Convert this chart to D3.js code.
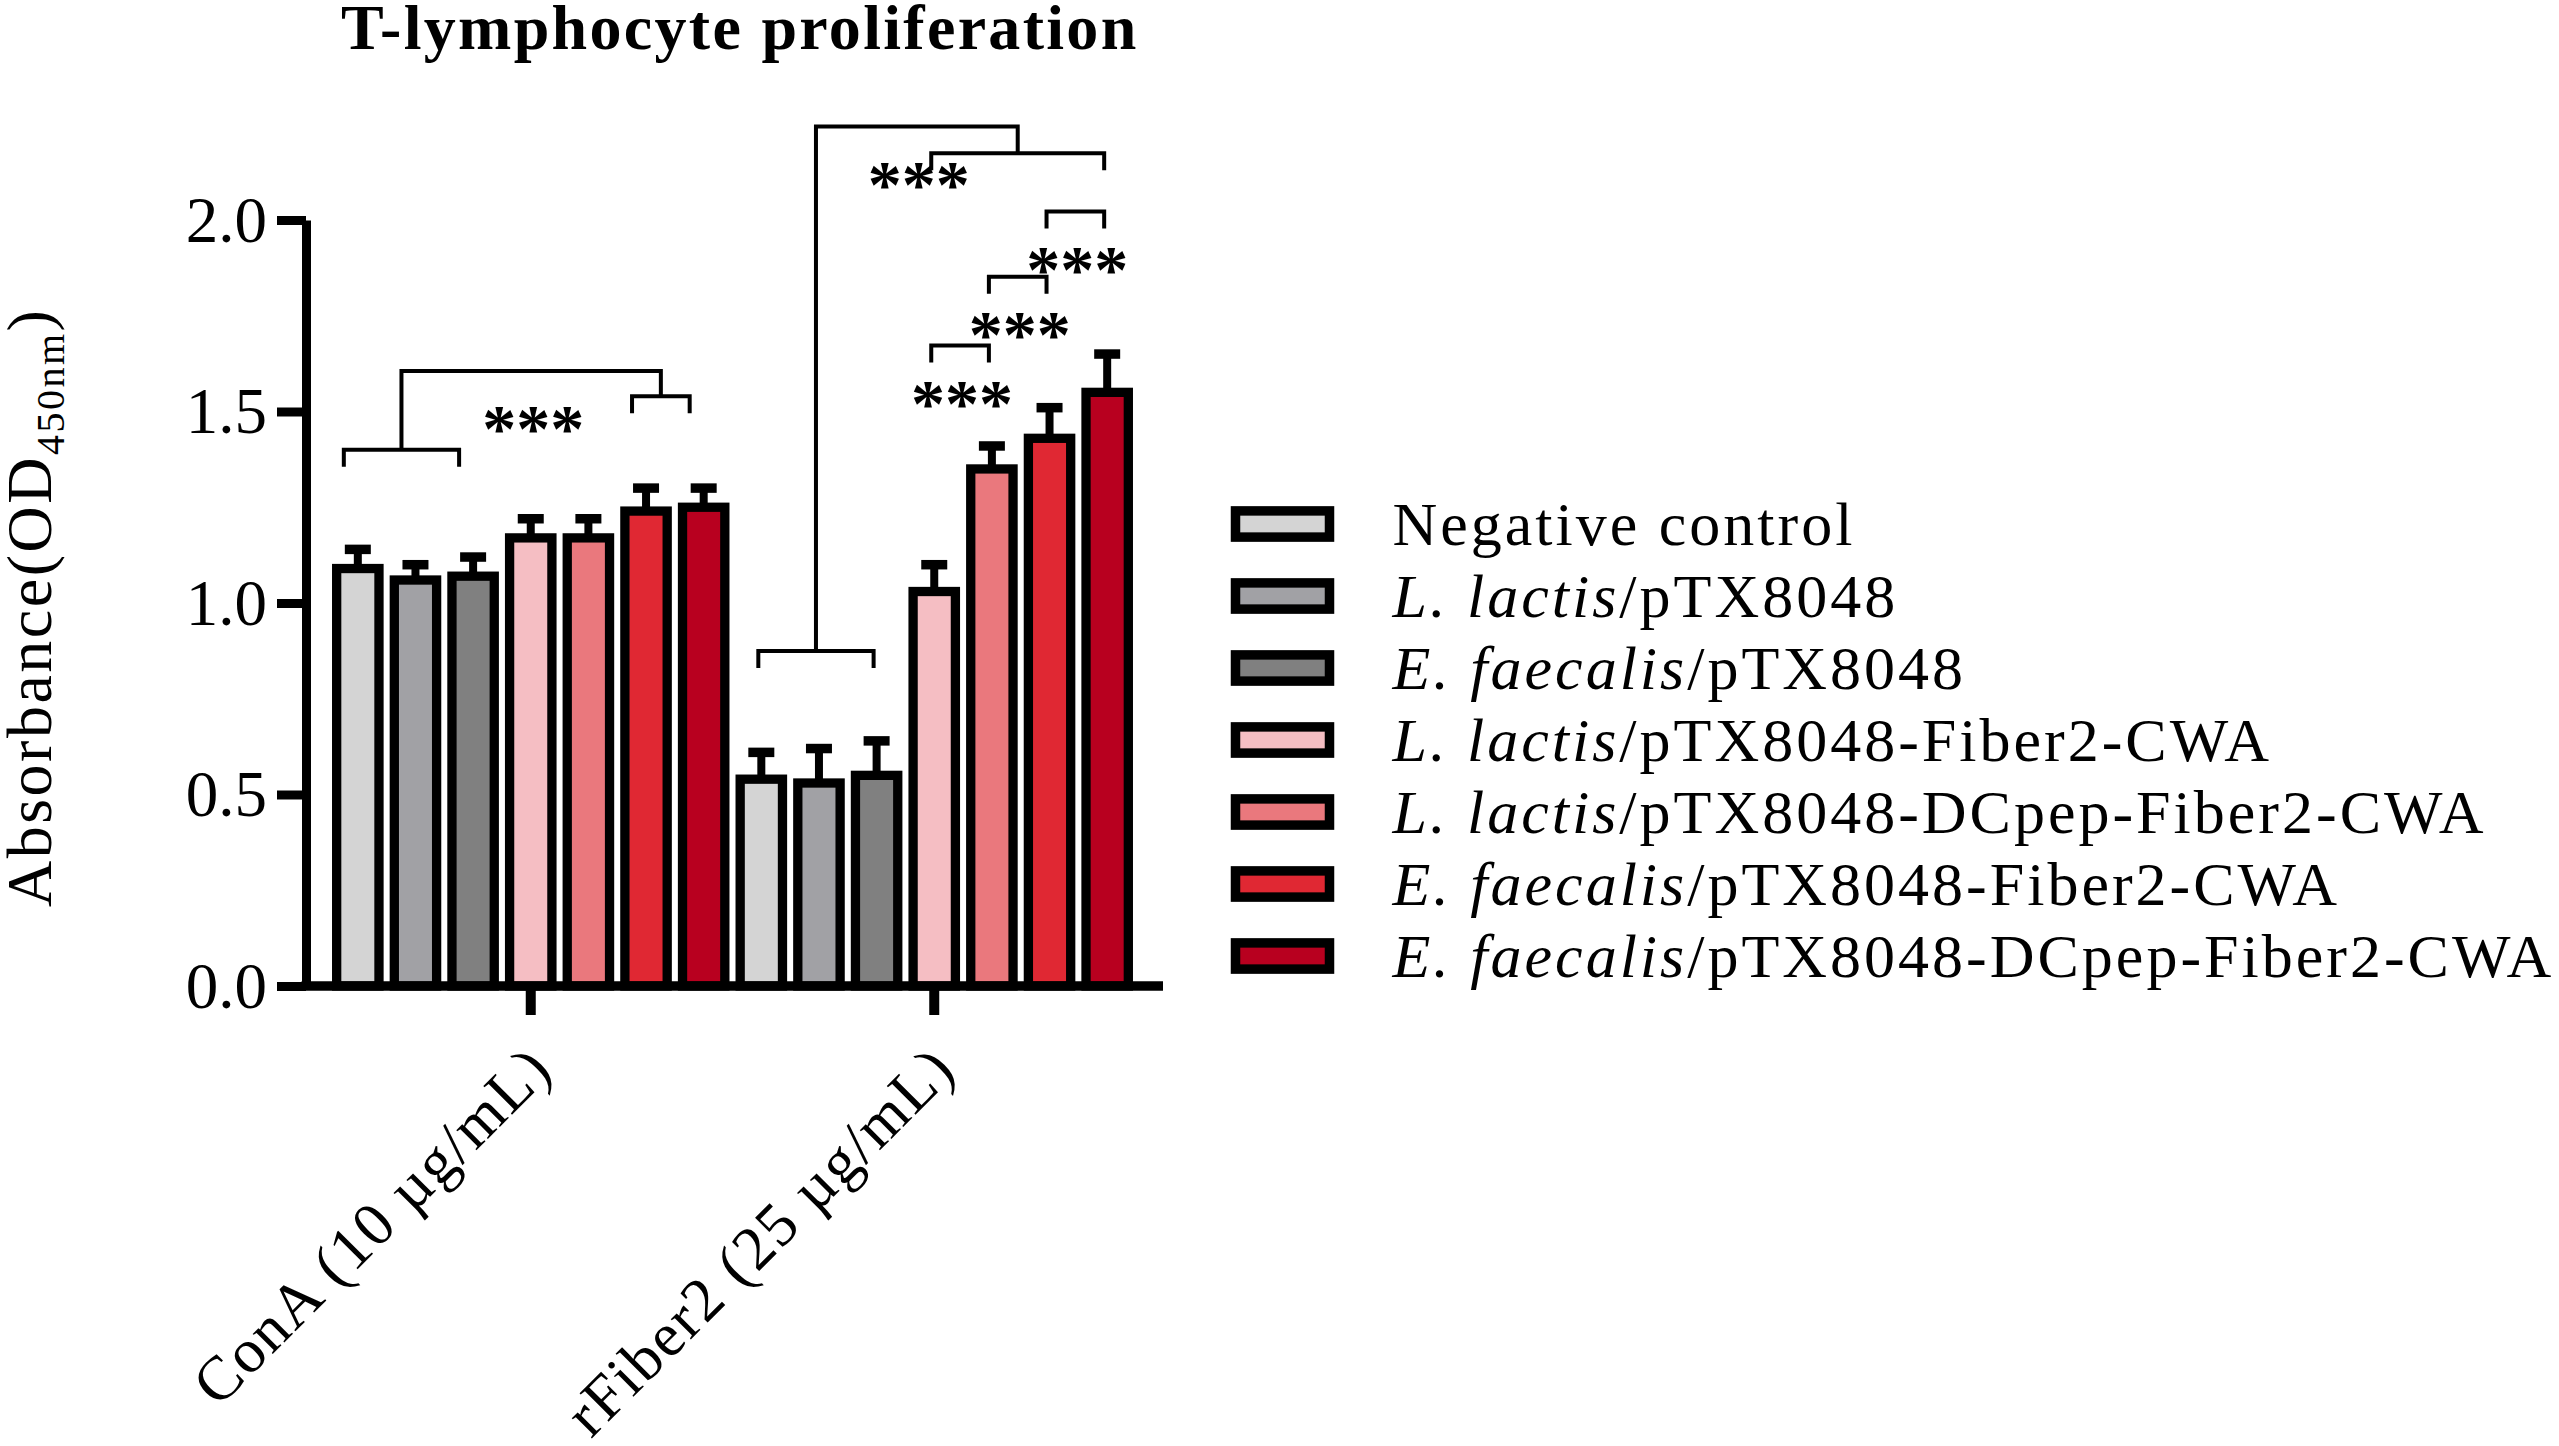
<!DOCTYPE html>
<html>
<head>
<meta charset="utf-8">
<script src="https://cdn.jsdelivr.net/npm/d3@7"></script>
<style>
body { margin: 0; background: #fff; }
text { font-family: "Liberation Serif", "Times New Roman", serif; fill: #000; }
</style>
</head>
<body>
<div id="content"></div>
<script>
var width = 2559, height = 1446

// data
var groups = ['ConA (10 µg/mL)', 'rFiber2 (25 µg/mL)']
var series = ['Negative control', 'L. lactis/pTX8048', 'E. faecalis/pTX8048',
    'L. lactis/pTX8048-Fiber2-CWA', 'L. lactis/pTX8048-DCpep-Fiber2-CWA',
    'E. faecalis/pTX8048-Fiber2-CWA', 'E. faecalis/pTX8048-DCpep-Fiber2-CWA']
var colors = ['#d4d4d4', '#a1a1a5', '#808080', '#f5bec3', '#ea787d', '#e02833', '#b8001f']
var conaMean = [1.09, 1.06, 1.07, 1.17, 1.17, 1.24, 1.25]
var conaSD = [0.05, 0.04, 0.05, 0.05, 0.05, 0.06, 0.05]
var fiberMean = [0.54, 0.53, 0.55, 1.03, 1.35, 1.43, 1.55]
var fiberSD = [0.07, 0.09, 0.09, 0.07, 0.06, 0.08, 0.10]
var yTicks = [0, 0.5, 1.0, 1.5, 2.0]

// significance brackets: group, first bar, last bar, level (absorbance units)
var pairs = [
    { g: 0, a: 0, b: 2, level: 1.40, stars: false },
    { g: 0, a: 5, b: 6, level: 1.54, stars: false },
    { g: 1, a: 0, b: 2, level: 0.875, stars: false },
    { g: 1, a: 3, b: 6, level: 2.174, stars: false },
    { g: 1, a: 5, b: 6, level: 2.022, stars: true },
    { g: 1, a: 4, b: 5, level: 1.852, stars: true },
    { g: 1, a: 3, b: 4, level: 1.672, stars: true }
]
// joins between two brackets above
var joins = [
    { left: 0, right: 1, level: 1.606 },
    { left: 2, right: 3, level: 2.244 }
]

var means = [conaMean, fiberMean], sds = [conaSD, fiberSD]
var plotLeft = 306, plotRight = 1163
var font = '"Liberation Serif", "Times New Roman", serif'

var svg = d3.select('#content')
    .append('svg')
    .attr('width', width)
    .attr('height', height)

var x0 = d3.scaleBand().domain(groups).range([329, 1136])
var x1 = d3.scaleBand().domain(d3.range(series.length))
    .range([0, x0.bandwidth()])
    .paddingInner(0.266)
    .paddingOuter(0.133)
var y = d3.scaleLinear().domain([0, 2]).range([986, 220])

var cx = (g, i) => x0(groups[g]) + x1(i) + x1.bandwidth() / 2
var pairShift = [-14, -3] // brackets sit a bit left of the bar centres in the original

// bars
var barData = []
groups.forEach((g, gi) => series.forEach((s, i) => barData.push({ g: gi, i: i, v: means[gi][i], sd: sds[gi][i] })))

svg.append('g')
    .selectAll('rect')
    .data(barData)
    .join('rect')
    .attr('x', d => x0(groups[d.g]) + x1(d.i))
    .attr('y', d => y(d.v))
    .attr('width', x1.bandwidth())
    .attr('height', d => y(0) - y(d.v))
    .attr('fill', d => colors[d.i])
    .attr('stroke', '#000')
    .attr('stroke-width', 9.3)

var err = svg.append('g').attr('stroke', '#000')
err.selectAll('line.stem')
    .data(barData)
    .join('line')
    .attr('class', 'stem')
    .attr('x1', d => cx(d.g, d.i)).attr('x2', d => cx(d.g, d.i))
    .attr('y1', d => y(d.v)).attr('y2', d => y(d.v + d.sd))
    .attr('stroke-width', 8)
err.selectAll('line.cap')
    .data(barData)
    .join('line')
    .attr('class', 'cap')
    .attr('x1', d => cx(d.g, d.i) - 13).attr('x2', d => cx(d.g, d.i) + 13)
    .attr('y1', d => y(d.v + d.sd)).attr('y2', d => y(d.v + d.sd))
    .attr('stroke-width', 9.5)

// axes
var yAxis = svg.append('g')
    .attr('transform', `translate(${plotLeft},0)`)
    .call(d3.axisLeft(y).tickValues(yTicks).tickFormat(d3.format('.1f')).tickSize(29).tickSizeOuter(0).tickPadding(10))
yAxis.select('.domain').attr('stroke-width', 9)
yAxis.selectAll('.tick line').attr('stroke-width', 9)
yAxis.selectAll('.tick text')
    .attr('font-family', font)
    .attr('font-size', 65)
    .attr('dy', '0.33em')

var xAxis = svg.append('g')
    .attr('transform', `translate(0,${y(0)})`)
    .call(d3.axisBottom(x0).tickSize(29).tickSizeOuter(0))
xAxis.select('.domain')
    .attr('d', `M${plotLeft - 4.5},0H${plotRight}`)
    .attr('stroke-width', 9.3)
xAxis.selectAll('.tick line').attr('stroke-width', 10)
xAxis.selectAll('.tick text')
    .attr('font-family', font)
    .attr('font-size', 62)
    .attr('letter-spacing', 1.8)
    .attr('text-anchor', 'end')
    .attr('x', 0).attr('y', 0).attr('dy', 0)
    .attr('transform', 'translate(24,86) rotate(-45)')

// significance brackets
var legDrop = 17
var bx = (p, k) => cx(p.g, k) + pairShift[p.g]
var mid = p => (bx(p, p.a) + bx(p, p.b)) / 2
var ann = svg.append('g').attr('fill', 'none').attr('stroke', '#000').attr('stroke-width', 4)

ann.selectAll('path.pair')
    .data(pairs)
    .join('path')
    .attr('class', 'pair')
    .attr('d', p => `M${bx(p, p.a)},${y(p.level) + legDrop}V${y(p.level)}H${bx(p, p.b)}V${y(p.level) + legDrop}`)

ann.selectAll('path.join')
    .data(joins)
    .join('path')
    .attr('class', 'join')
    .attr('d', j => {
        var l = pairs[j.left], r = pairs[j.right]
        return `M${mid(l)},${y(l.level)}V${y(j.level)}H${mid(r)}V${y(r.level)}`
    })

var starData = pairs.filter(p => p.stars).map(p => ({ x: mid(p), level: p.level }))
    .concat(joins.map(j => ({ x: (mid(pairs[j.left]) + mid(pairs[j.right])) / 2, level: j.level })))

svg.append('g')
    .selectAll('text')
    .data(starData)
    .join('text')
    .attr('x', d => d.x + 2)
    .attr('y', d => y(d.level) + 80)
    .attr('text-anchor', 'middle')
    .attr('font-size', 68)
    .attr('font-weight', 'bold')
    .text('***')

// title
svg.append('text')
    .attr('x', 341)
    .attr('y', 49)
    .attr('font-size', 64)
    .attr('font-weight', 'bold')
    .attr('letter-spacing', 2.3)
    .text('T-lymphocyte proliferation')

// y label
var yl = svg.append('text')
    .attr('transform', 'translate(51,907) rotate(-90)')
    .attr('font-size', 64)
    .attr('letter-spacing', 2.5)
yl.append('tspan').text('Absorbance(OD')
yl.append('tspan').attr('font-size', 40).attr('dy', 13).text('450nm')
yl.append('tspan').attr('dy', -13).text(')')

// legend
var legend = svg.append('g')
    .selectAll('g')
    .data(series)
    .join('g')
    .attr('transform', (d, i) => `translate(1235.5,${524 + 72 * i})`)

legend.append('rect')
    .attr('x', 0).attr('y', -13.1)
    .attr('width', 94).attr('height', 26.2)
    .attr('fill', (d, i) => colors[i])
    .attr('stroke', '#000')
    .attr('stroke-width', 9.5)

var lt = legend.append('text')
    .attr('x', 157)
    .attr('y', 21)
    .attr('font-size', 62)
    .attr('letter-spacing', 3)
lt.append('tspan')
    .attr('font-style', 'italic')
    .text(d => d.indexOf('/') > 0 ? d.slice(0, d.indexOf('/')) : '')
lt.append('tspan')
    .text(d => d.indexOf('/') > 0 ? d.slice(d.indexOf('/')) : d)
</script>
</body>
</html>
